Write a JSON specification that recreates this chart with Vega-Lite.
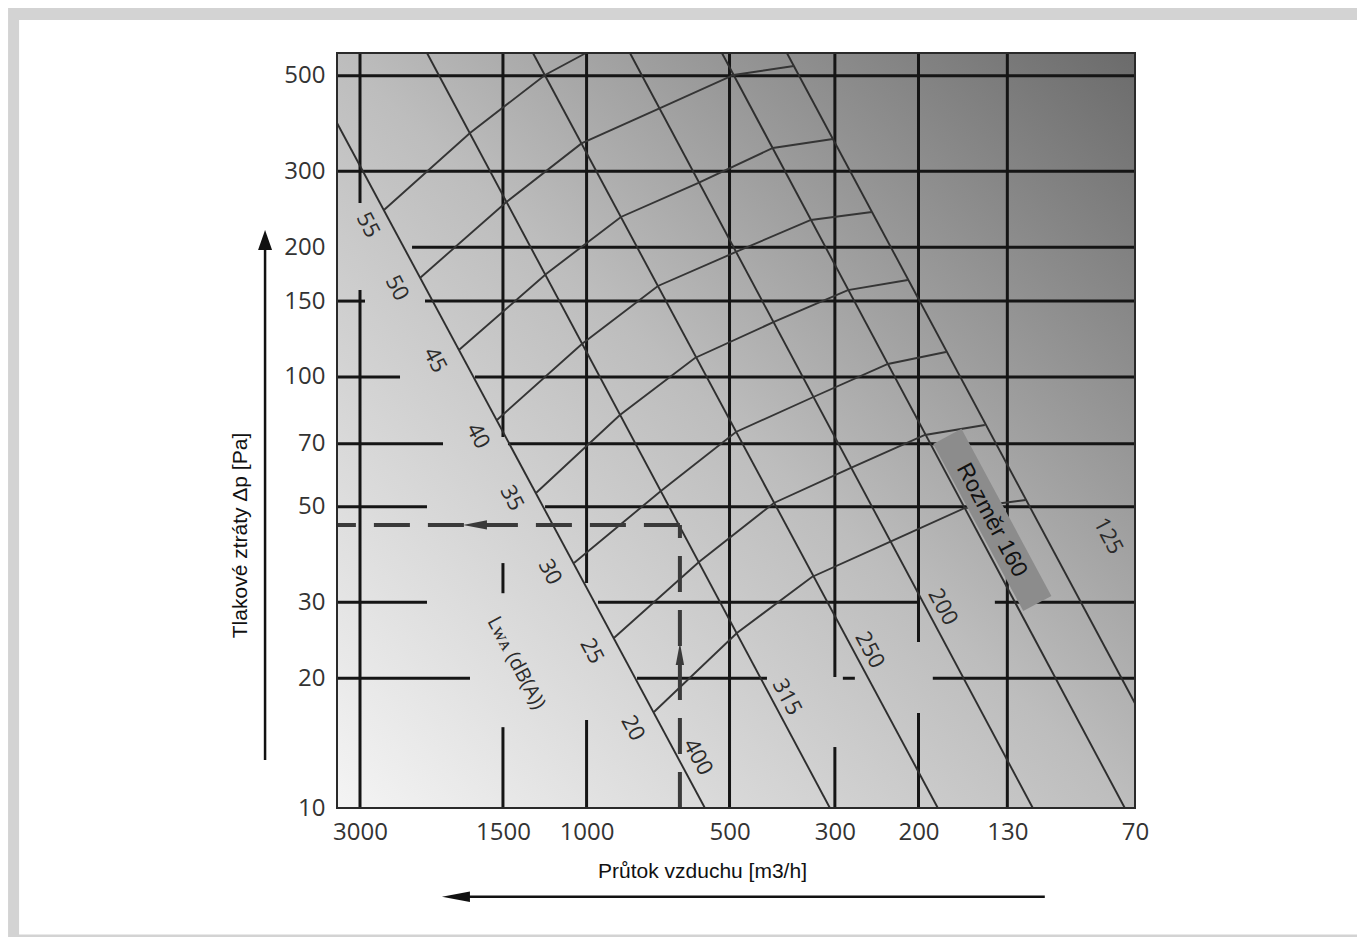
{
  "$schema": "https://vega.github.io/schema/vega-lite/v6.json",
  "width": 798,
  "height": 755,
  "autosize": {"type": "none"},
  "padding": {"left": 337, "top": 53, "right": 222, "bottom": 129},
  "background": "white",
  "config": {"view": {"stroke": null}},
  "datasets": {
    "page": [
      {"part": "outer", "q": 16530, "q2": 19.39, "p": 718.1, "p2": 4.44},
      {"part": "inner", "q": 15670, "q2": 19.39, "p": 673.3, "p2": 5.087}
    ],
    "plot": [{"q": 3354, "q2": 70, "p": 10, "p2": 564.5}],
    "vgrid": [
      {"q": 3000, "p": 10, "p2": 159.1}, {"q": 3000, "p": 253.3, "p2": 564.5},
      {"q": 1500, "p": 10, "p2": 15.4}, {"q": 1500, "p": 31.5, "p2": 37.0}, {"q": 1500, "p": 72.6, "p2": 564.5},
      {"q": 1000, "p": 10, "p2": 16.0}, {"q": 1000, "p": 33.27, "p2": 564.5},
      {"q": 500, "p": 10, "p2": 564.5},
      {"q": 300, "p": 10, "p2": 13.85}, {"q": 300, "p": 20.14, "p2": 564.5},
      {"q": 200, "p": 10, "p2": 16.61}, {"q": 200, "p": 24.28, "p2": 564.5},
      {"q": 130, "p": 10, "p2": 564.5}
    ],
    "hgrid": [
      {"p": 500, "q": 3354, "q2": 70},
      {"p": 300, "q": 3354, "q2": 70},
      {"p": 200, "q": 2331, "q2": 70},
      {"p": 150, "q": 3354, "q2": 2928}, {"p": 150, "q": 2189, "q2": 70},
      {"p": 100, "q": 3354, "q2": 2471}, {"p": 100, "q": 1718, "q2": 70},
      {"p": 70, "q": 3354, "q2": 2006}, {"p": 70, "q": 1464, "q2": 70},
      {"p": 50, "q": 3354, "q2": 2168}, {"p": 50, "q": 1223, "q2": 70},
      {"p": 30, "q": 3354, "q2": 2168}, {"p": 30, "q": 946, "q2": 198.7}, {"p": 30, "q": 138.1, "q2": 70},
      {"p": 20, "q": 3354, "q2": 1760}, {"p": 20, "q": 783, "q2": 417}, {"p": 20, "q": 288.6, "q2": 272.3}, {"p": 20, "q": 186.6, "q2": 70}
    ],
    "sizes": [
      {"s": "400", "q": 3354, "p": 388.4, "i": 0}, {"s": "400", "q": 563.4, "p": 10, "i": 1},
      {"s": "315", "q": 2168, "p": 564.5, "i": 0}, {"s": "315", "q": 307.3, "p": 10, "i": 1},
      {"s": "250", "q": 1297, "p": 564.5, "i": 0}, {"s": "250", "q": 182.1, "p": 10, "i": 1},
      {"s": "200", "q": 810.3, "p": 564.5, "i": 0}, {"s": "200", "q": 114.9, "p": 10, "i": 1},
      {"s": "160", "q": 518.8, "p": 564.5, "i": 0}, {"s": "160", "q": 73.55, "p": 10, "i": 1},
      {"s": "125", "q": 378.6, "p": 564.5, "i": 0}, {"s": "125", "q": 70.06, "p": 17.52, "i": 1}
    ],
    "noise": [
      {"s": "55", "i": 0, "q": 2671, "p": 244.1}, {"s": "55", "i": 1, "q": 1760, "p": 368.3}, {"s": "55", "i": 2, "q": 1223, "p": 502}, {"s": "55", "i": 3, "q": 1003, "p": 564.5},
      {"s": "50", "i": 0, "q": 2243, "p": 169.7}, {"s": "50", "i": 1, "q": 1475, "p": 254.7}, {"s": "50", "i": 2, "q": 1025, "p": 348.2}, {"s": "50", "i": 3, "q": 702.2, "p": 420}, {"s": "50", "i": 4, "q": 490, "p": 502}, {"s": "50", "i": 5, "q": 366, "p": 526.7},
      {"s": "45", "i": 0, "q": 1857, "p": 115.5}, {"s": "45", "i": 1, "q": 1217, "p": 173.4}, {"s": "45", "i": 2, "q": 846.6, "p": 235.1}, {"s": "45", "i": 3, "q": 582.9, "p": 281.8}, {"s": "45", "i": 4, "q": 405.2, "p": 339.9}, {"s": "45", "i": 5, "q": 302.9, "p": 356.6},
      {"s": "40", "i": 0, "q": 1544, "p": 79.5}, {"s": "40", "i": 1, "q": 1023, "p": 119.3}, {"s": "40", "i": 2, "q": 707.5, "p": 162.6}, {"s": "40", "i": 3, "q": 484.7, "p": 195}, {"s": "40", "i": 4, "q": 337, "p": 231.4}, {"s": "40", "i": 5, "q": 250.7, "p": 241.4},
      {"s": "35", "i": 0, "q": 1278, "p": 53.81}, {"s": "35", "i": 1, "q": 850.7, "p": 81.61}, {"s": "35", "i": 2, "q": 591.4, "p": 110.7}, {"s": "35", "i": 3, "q": 403.2, "p": 134.2}, {"s": "35", "i": 4, "q": 281.6, "p": 159.1}, {"s": "35", "i": 5, "q": 210.6, "p": 167.9},
      {"s": "30", "i": 0, "q": 1063, "p": 37.02}, {"s": "30", "i": 1, "q": 697.4, "p": 54.38}, {"s": "30", "i": 2, "q": 484.7, "p": 74.55}, {"s": "30", "i": 3, "q": 332.9, "p": 89.86}, {"s": "30", "i": 4, "q": 232, "p": 107.2}, {"s": "30", "i": 5, "q": 175.1, "p": 114.3},
      {"s": "25", "i": 0, "q": 876, "p": 24.8}, {"s": "25", "i": 1, "q": 580, "p": 37.22}, {"s": "25", "i": 2, "q": 403.2, "p": 51.01}, {"s": "25", "i": 3, "q": 277.6, "p": 61.51}, {"s": "25", "i": 4, "q": 193.9, "p": 73.36}, {"s": "25", "i": 5, "q": 145, "p": 77.38},
      {"s": "20", "i": 0, "q": 721.3, "p": 16.7}, {"s": "20", "i": 1, "q": 482.4, "p": 25.47}, {"s": "20", "i": 2, "q": 335.4, "p": 34.36}, {"s": "20", "i": 3, "q": 229.8, "p": 41.42}, {"s": "20", "i": 4, "q": 159.7, "p": 49.67}, {"s": "20", "i": 5, "q": 118.9, "p": 51.83}
    ],
    "dash": [
      {"s": "h", "i": 0, "q": 636, "p": 45.37}, {"s": "h", "i": 1, "q": 3354, "p": 45.37},
      {"s": "v", "i": 0, "q": 636, "p": 10}, {"s": "v", "i": 1, "q": 636, "p": 45.37}
    ],
    "dleft": [{"q": 1718, "p": 45.37}],
    "dup": [{"q": 636, "p": 22.77}],
    "box": [{"i": 0, "q": 173.9, "p": 72.78}, {"i": 1, "q": 112.4, "p": 29.82}],
    "boxlabel": [{"t": "Rozměr 160", "q": 140.1, "p": 46.58}],
    "nums": [
      {"t": "55", "q": 2886, "p": 225.2},
      {"t": "50", "q": 2507, "p": 160.9},
      {"t": "45", "q": 2085, "p": 109.5},
      {"t": "40", "q": 1693, "p": 72.97},
      {"t": "35", "q": 1436, "p": 52.39},
      {"t": "30", "q": 1194, "p": 35.29},
      {"t": "25", "q": 974.3, "p": 23.14},
      {"t": "20", "q": 798.6, "p": 15.33},
      {"t": "400", "q": 582.9, "p": 13.13},
      {"t": "315", "q": 378.5, "p": 18.09},
      {"t": "250", "q": 253.2, "p": 23.26},
      {"t": "200", "q": 177.7, "p": 29.27},
      {"t": "125", "q": 79.7, "p": 42.77}
    ],
    "lwa": [{"t": "Lᴡᴀ (dB(A))", "q": 1408, "p": 21.7}],
    "axshaft": [
      {"s": "v", "i": 0, "q": 4754, "p": 12.92}, {"s": "v", "i": 1, "q": 4754, "p": 199},
      {"s": "h", "i": 0, "q": 108.4, "p": 6.226}, {"s": "h", "i": 1, "q": 1830, "p": 6.226}
    ],
    "axup": [{"q": 4754, "p": 207.9}],
    "axleft": [{"q": 1884, "p": 6.226}]
  },
  "encoding": {
    "x": {
      "field": "q", "type": "quantitative",
      "scale": {"type": "log", "domain": [70, 3354], "reverse": true, "nice": false},
      "axis": {
        "values": [3000, 1500, 1000, 500, 300, 200, 130, 70], "format": "d", "zindex": 2,
        "grid": false, "ticks": false, "domain": false,
        "labelFont": "Open Sans", "labelFontSize": 24, "labelColor": "#333333",
        "labelPadding": 12, "labelFlush": false, "labelOverlap": false,
        "title": "Průtok vzduchu [m3/h]", "titleFont": "Liberation Sans", "titleFontSize": 21,
        "titleFontWeight": "normal", "titleColor": "#111111",
        "titleX": 365, "titleY": 63, "titleAlign": "center", "titleBaseline": "middle"
      }
    },
    "y": {
      "field": "p", "type": "quantitative",
      "scale": {"type": "log", "domain": [10, 564.5], "nice": false},
      "axis": {
        "values": [10, 20, 30, 50, 70, 100, 150, 200, 300, 500], "format": "d", "zindex": 2,
        "grid": false, "ticks": false, "domain": false,
        "labelFont": "Open Sans", "labelFontSize": 24, "labelColor": "#333333",
        "labelPadding": 12, "labelFlush": false, "labelOverlap": false,
        "title": "Tlakové ztráty Δp [Pa]", "titleFont": "Liberation Sans", "titleFontSize": 21,
        "titleFontWeight": "normal", "titleColor": "#111111",
        "titleX": -97, "titleY": 482, "titleAngle": -90, "titleAlign": "center", "titleBaseline": "middle"
      }
    }
  },
  "layer": [
    {
      "data": {"name": "page"},
      "mark": {"type": "rect"},
      "encoding": {
        "x2": {"field": "q2"}, "y2": {"field": "p2"},
        "color": {"field": "part", "type": "nominal", "scale": {"domain": ["outer", "inner"], "range": ["#d3d3d3", "#ffffff"]}, "legend": null}
      }
    },
    {
      "data": {"name": "plot"},
      "mark": {
        "type": "rect",
        "color": {"gradient": "linear", "x1": 0, "y1": 1, "x2": 1, "y2": 0,
          "stops": [{"offset": 0, "color": "#f4f4f4"}, {"offset": 0.5, "color": "#bdbdbd"}, {"offset": 1, "color": "#6b6b6b"}]}
      },
      "encoding": {"x2": {"field": "q2"}, "y2": {"field": "p2"}}
    },
    {
      "data": {"name": "vgrid"},
      "mark": {"type": "rule", "color": "#151515", "strokeWidth": 3},
      "encoding": {"y2": {"field": "p2"}}
    },
    {
      "data": {"name": "hgrid"},
      "mark": {"type": "rule", "color": "#151515", "strokeWidth": 3},
      "encoding": {"x2": {"field": "q2"}}
    },
    {
      "data": {"name": "sizes"},
      "mark": {"type": "line", "color": "#2e2e2e", "strokeWidth": 1.9},
      "encoding": {"detail": {"field": "s"}, "order": {"field": "i"}}
    },
    {
      "data": {"name": "noise"},
      "mark": {"type": "line", "color": "#353535", "strokeWidth": 1.9},
      "encoding": {"detail": {"field": "s"}, "order": {"field": "i"}}
    },
    {
      "data": {"name": "dash"},
      "mark": {"type": "line", "color": "#3a3a3a", "strokeWidth": 4, "strokeDash": [36, 18], "strokeCap": "butt"},
      "encoding": {"detail": {"field": "s"}, "order": {"field": "i"}}
    },
    {
      "data": {"name": "dleft"},
      "mark": {"type": "point", "shape": "M -1 0 L 1 -0.38 L 1 0.38 Z", "size": 576, "filled": true, "color": "#3a3a3a", "opacity": 1, "strokeWidth": 0}
    },
    {
      "data": {"name": "dup"},
      "mark": {"type": "point", "shape": "M 0 -1 L 0.38 1 L -0.38 1 Z", "size": 484, "filled": true, "color": "#3a3a3a", "opacity": 1, "strokeWidth": 0}
    },
    {
      "data": {"name": "plot"},
      "mark": {"type": "rect", "filled": false, "stroke": "#2a2a2a", "strokeWidth": 2},
      "encoding": {"x2": {"field": "q2"}, "y2": {"field": "p2"}}
    },
    {
      "data": {"name": "box"},
      "mark": {"type": "line", "color": "#8c8c8c", "strokeWidth": 32, "strokeCap": "butt"},
      "encoding": {"order": {"field": "i"}}
    },
    {
      "data": {"name": "boxlabel"},
      "mark": {"type": "text", "font": "Liberation Sans", "fontSize": 23, "angle": 62, "align": "center", "baseline": "middle", "color": "#111111"},
      "encoding": {"text": {"field": "t"}}
    },
    {
      "data": {"name": "nums"},
      "mark": {"type": "text", "font": "Open Sans", "fontSize": 22, "angle": 62, "align": "center", "baseline": "middle", "color": "#2b2b2b"},
      "encoding": {"text": {"field": "t"}}
    },
    {
      "data": {"name": "lwa"},
      "mark": {"type": "text", "font": "Open Sans", "fontSize": 20, "angle": 62, "align": "center", "baseline": "middle", "color": "#2b2b2b"},
      "encoding": {"text": {"field": "t"}}
    },
    {
      "data": {"name": "axshaft"},
      "mark": {"type": "line", "color": "#111111", "strokeWidth": 2.5},
      "encoding": {"detail": {"field": "s"}, "order": {"field": "i"}}
    },
    {
      "data": {"name": "axup"},
      "mark": {"type": "point", "shape": "M 0 -1 L 0.7 1 L -0.7 1 Z", "size": 400, "filled": true, "color": "#111111", "opacity": 1, "strokeWidth": 0}
    },
    {
      "data": {"name": "axleft"},
      "mark": {"type": "point", "shape": "M -1 0 L 1 -0.38 L 1 0.38 Z", "size": 784, "filled": true, "color": "#111111", "opacity": 1, "strokeWidth": 0}
    }
  ]
}
